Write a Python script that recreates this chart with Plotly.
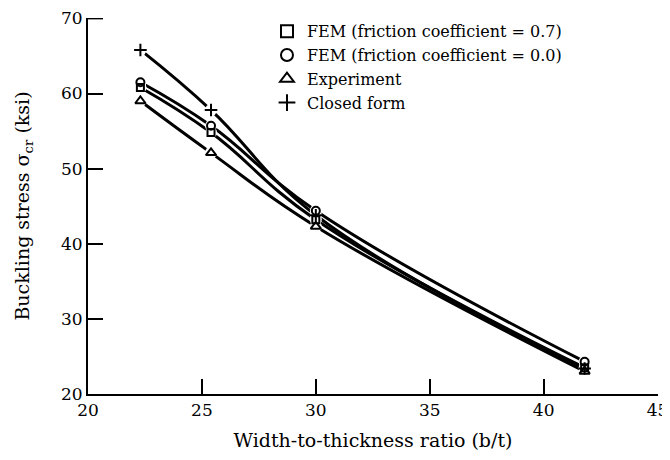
import plotly.graph_objects as go

ratio = [22.3, 25.4, 30.0, 41.8]
fem_07 = [60.8, 54.8, 43.2, 23.5]
fem_00 = [61.5, 55.7, 44.4, 24.3]
experiment = [59.0, 52.1, 42.3, 23.0]
closed_form = [65.8, 57.8, 43.8, 23.4]

series = [
    ("FEM (friction coefficient = 0.7)", fem_07, "square-open", 7),
    ("FEM (friction coefficient = 0.0)", fem_00, "circle-open", 8),
    ("Experiment", experiment, "triangle-up-open", 9),
    ("Closed form", closed_form, "cross-thin-open", 9),
]

x_ticks = [20, 25, 30, 35, 40, 45]
y_ticks = [20, 30, 40, 50, 60, 70]

FONT = "DejaVu Serif"
fig = go.Figure()

# curves
for name, vals, sym, sz in series:
    fig.add_trace(go.Scatter(x=ratio, y=vals, mode="lines",
                             line=dict(color="black", width=3, shape="spline", smoothing=1.2),
                             showlegend=False, hoverinfo="skip"))
# white masks around markers
for name, vals, sym, sz in series:
    fig.add_trace(go.Scatter(x=ratio, y=vals, mode="markers",
                             marker=dict(symbol="circle", size=12, color="white",
                                         line=dict(width=0)),
                             showlegend=False, hoverinfo="skip"))
# markers
for name, vals, sym, sz in series:
    fig.add_trace(go.Scatter(x=ratio, y=vals, mode="markers", name=name,
                             marker=dict(symbol=sym, size=sz, color="black",
                                         line=dict(color="black", width=2))))

# top tick of the y axis (plotly drops the inside tick at the range edge)
fig.add_shape(type="line", xref="paper", yref="y", xsizemode="pixel", xanchor=0,
              x0=0, x1=15, y0=y_ticks[-1], y1=y_ticks[-1],
              line=dict(color="black", width=2))

# page body has an 8px margin, so the figure is sized/margined to compensate
fig.update_layout(
    width=662, height=452,
    margin=dict(l=80, r=12, t=10, b=66, autoexpand=False),
    paper_bgcolor="white", plot_bgcolor="white",
    font=dict(family=FONT, size=16, color="black"),
    showlegend=True,
    legend=dict(x=0.314, y=1.01, xanchor="left", yanchor="top",
                bgcolor="rgba(0,0,0,0)", font=dict(family=FONT, size=16),
                itemsizing="constant", tracegroupgap=0, itemwidth=30),
    xaxis=dict(range=[20, 45.02], tickvals=x_ticks, ticktext=[str(v) for v in x_ticks],
               ticks="inside", ticklen=15, tickwidth=2, tickcolor="black",
               showline=True, linecolor="black", linewidth=2, showgrid=False,
               zeroline=False, mirror=False, automargin=False,
               ticklabeloverflow="allow",
               title=dict(text="Width-to-thickness ratio (b/t)", standoff=14,
                          font=dict(family=FONT, size=19)),
               tickfont=dict(family=FONT, size=17)),
    yaxis=dict(range=[20, 70.05], tickvals=y_ticks, ticktext=[str(v) for v in y_ticks],
               ticks="inside", ticklen=15, tickwidth=2, tickcolor="black",
               showline=True, linecolor="black", linewidth=2, showgrid=False,
               zeroline=False, automargin=False,
               ticklabeloverflow="allow",
               title=dict(text="Buckling stress σ<sub>cr</sub> (ksi)", standoff=26,
                          font=dict(family=FONT, size=19)),
               tickfont=dict(family=FONT, size=17)),
)

fig.write_html("out.html")
